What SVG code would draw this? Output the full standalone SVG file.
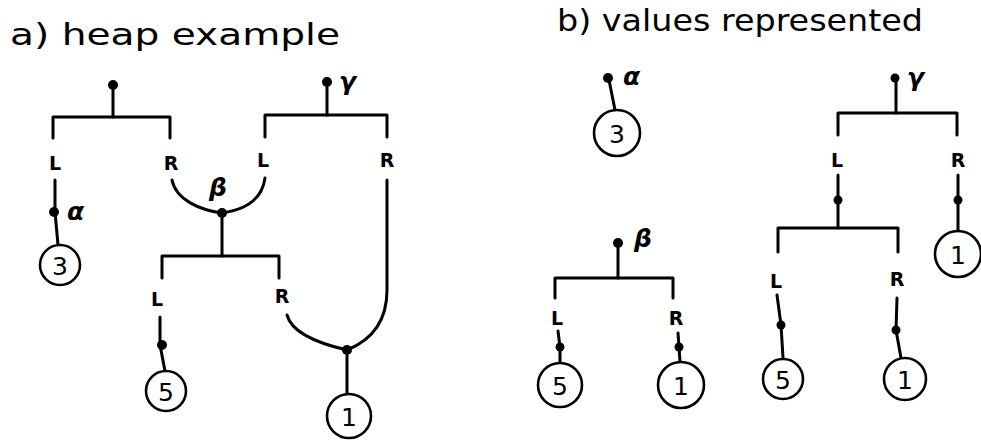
<svg xmlns="http://www.w3.org/2000/svg" width="981" height="441" viewBox="0 0 981 441">
  <style>
    .wire { fill: none; stroke: #000; stroke-width: 3; stroke-linecap: round; stroke-linejoin: round; }
    .dot { fill: #000; }
    .leaf { fill: #fff; stroke: #000; stroke-width: 2.6; }
    .val { font-family: "DejaVu Sans", sans-serif; font-size: 25px; text-anchor: middle; dominant-baseline: central; fill: #000; }
    .lr { font-family: "DejaVu Sans", sans-serif; font-size: 19px; font-weight: bold; text-anchor: middle; fill: #000; }
    .greek { font-family: "DejaVu Sans", sans-serif; font-size: 25px; font-style: italic; font-weight: bold; fill: #000; }
    .title { font-family: "DejaVu Sans", sans-serif; font-size: 30px; fill: #000; }
  </style>

  <rect width="981" height="441" fill="#fff"/>

  <!-- headings -->
  <text class="title" x="10" y="45" textLength="330" lengthAdjust="spacingAndGlyphs">a) heap example</text>
  <text class="title" x="557" y="31" textLength="366" lengthAdjust="spacingAndGlyphs">b) values represented</text>

  <!-- all wires: stems, bars, legs and shared edges -->
  <g id="connectors" class="wire">
    <!-- a) unnamed root pair -->
    <path d="M113,86 V117"/>
    <path d="M53,138 V117 H170 V138"/>
    <path d="M55,180 V212 L58,245"/>
    <!-- a) gamma pair -->
    <path d="M327,84 V115"/>
    <path d="M265,137 V115 H387 V137"/>
    <!-- shared beta: R of root and L of gamma meet -->
    <path d="M172,180 C176,200 200,210 222,213 C244,210 262,200 265,178"/>
    <!-- R of gamma down to shared leaf 1 -->
    <path d="M387,180 V290 C387,322 372,340 347,350"/>
    <!-- a) beta pair -->
    <path d="M222,213 V256"/>
    <path d="M162,278 V256 H279 V278"/>
    <path d="M160,317 V345 L165,371"/>
    <path d="M287,315 C291,330 312,342 347,350"/>
    <path d="M347,350 V394"/>

    <!-- b) alpha -->
    <path d="M609,80 L615,110"/>
    <!-- b) gamma -->
    <path d="M896,80 V113"/>
    <path d="M838,135 V113 H957 V135"/>
    <path d="M838,175 V228"/>
    <path d="M958,175 V231"/>
    <path d="M778,252 V228 H898 V252"/>
    <path d="M777,295 L781,325 L783,358"/>
    <path d="M897,298 L896,330 L901,358"/>
    <!-- b) beta -->
    <path d="M618,245 V278"/>
    <path d="M555,298 V278 H673 V298"/>
    <path d="M558,331 L560,347 L560,363"/>
    <path d="M678,333 L679,347 L680,362"/>
  </g>

  <!-- a) heap example: junction dots -->
  <g id="a-root"><circle class="dot" cx="113" cy="85" r="5"/></g>
  <g id="a-gamma">
    <circle class="dot" cx="327" cy="82" r="5"/>
    <text class="greek" x="339" y="90">γ</text>
  </g>
  <g id="a-alpha">
    <circle class="dot" cx="54" cy="212" r="5"/>
    <text class="greek" x="67" y="220">α</text>
  </g>
  <g id="a-beta">
    <circle class="dot" cx="222" cy="213" r="5"/>
    <text class="greek" x="209" y="196">β</text>
  </g>
  <g id="a-left5dot"><circle class="dot" cx="162" cy="345" r="5"/></g>
  <g id="a-shared1dot"><circle class="dot" cx="347" cy="350" r="5"/></g>

  <!-- a) labels on legs -->
  <g id="a-labels">
    <text class="lr" x="55" y="170">L</text>
    <text class="lr" x="171" y="170">R</text>
    <text class="lr" x="263" y="167">L</text>
    <text class="lr" x="387" y="167">R</text>
    <text class="lr" x="157" y="306">L</text>
    <text class="lr" x="282" y="303">R</text>
  </g>

  <!-- a) leaves -->
  <g id="a-leaf3"><circle class="leaf" cx="60" cy="265" r="20"/><text class="val" x="60" y="266">3</text></g>
  <g id="a-leaf5"><circle class="leaf" cx="166" cy="391" r="20"/><text class="val" x="166" y="392">5</text></g>
  <g id="a-leaf1"><circle class="leaf" cx="349" cy="416" r="22"/><text class="val" x="349" y="417">1</text></g>

  <!-- b) alpha value -->
  <g id="b-alpha">
    <circle class="dot" cx="608" cy="78" r="5"/>
    <text class="greek" x="623" y="85">α</text>
  </g>
  <g id="b-leaf3"><circle class="leaf" cx="617" cy="133" r="23"/><text class="val" x="617" y="134">3</text></g>

  <!-- b) gamma value -->
  <g id="b-gamma">
    <circle class="dot" cx="895" cy="78" r="4.5"/>
    <text class="greek" x="907" y="86">γ</text>
  </g>
  <g id="b-gamma-L"><circle class="dot" cx="838" cy="200" r="4.5"/></g>
  <g id="b-gamma-R"><circle class="dot" cx="958" cy="200" r="4.5"/></g>
  <g id="b-gamma-5dot"><circle class="dot" cx="781" cy="325" r="4.5"/></g>
  <g id="b-gamma-1dot"><circle class="dot" cx="896" cy="330" r="4.5"/></g>
  <g id="b-gamma-labels">
    <text class="lr" x="837" y="167">L</text>
    <text class="lr" x="958" y="167">R</text>
    <text class="lr" x="776" y="288">L</text>
    <text class="lr" x="897" y="286">R</text>
  </g>
  <g id="b-gamma-leaf1"><circle class="leaf" cx="958" cy="254" r="23"/><text class="val" x="958" y="255">1</text></g>
  <g id="b-gamma-leaf5"><circle class="leaf" cx="783" cy="379" r="20"/><text class="val" x="783" y="380">5</text></g>
  <g id="b-gamma-leaf1b"><circle class="leaf" cx="905" cy="379" r="21"/><text class="val" x="905" y="380">1</text></g>

  <!-- b) beta value -->
  <g id="b-beta">
    <circle class="dot" cx="618" cy="243" r="5"/>
    <text class="greek" x="634" y="247">β</text>
  </g>
  <g id="b-beta-Ldot"><circle class="dot" cx="560" cy="347" r="4.5"/></g>
  <g id="b-beta-Rdot"><circle class="dot" cx="679" cy="347" r="4.5"/></g>
  <g id="b-beta-labels">
    <text class="lr" x="557" y="325">L</text>
    <text class="lr" x="676" y="325">R</text>
  </g>
  <g id="b-beta-leaf5"><circle class="leaf" cx="560" cy="385" r="22"/><text class="val" x="560" y="386">5</text></g>
  <g id="b-beta-leaf1"><circle class="leaf" cx="681" cy="385" r="23"/><text class="val" x="681" y="386">1</text></g>
</svg>
